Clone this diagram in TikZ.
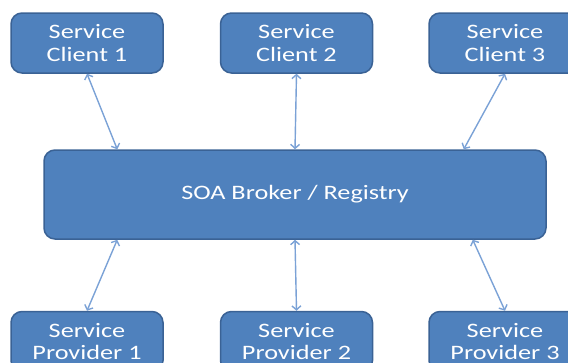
\documentclass[tikz,border=0pt]{standalone}
\usepackage{fontspec}
\newfontfamily\boxfont{Carlito}[FakeStretch=1.28]
\usepackage{tikz}
\usetikzlibrary{arrows.meta, positioning}

\definecolor{boxblue}{HTML}{4F81BD}
\definecolor{boxedge}{HTML}{3A6295}
\definecolor{linkblue}{HTML}{7BA2D6}

\begin{document}
\begin{tikzpicture}[x=1pt, y=-1pt,
        svc/.style={rectangle, draw=boxedge, line width=1.5pt, rounded corners=11pt,
                    fill=boxblue, text=white, align=center,
                    minimum width=152pt, minimum height=60pt, inner sep=0pt,
                    font=\boxfont\fontsize{20.5}{22.5}\selectfont},
        broker/.style={svc, minimum width=502pt, minimum height=89pt},
        link/.style={{Straight Barb[length=4pt,width=9pt]}-{Straight Barb[length=4pt,width=9pt]},
                     line width=1.4pt, linkblue}
    ]
        \useasboundingbox (0,0) rectangle (568,362);
        \clip (0,0) rectangle (568,362);
        \node[svc] (cl1) at (87,43) {Service\\Client 1};
        \node[svc, right=56pt of cl1] (cl2) {Service\\Client 2};
        \node[svc, right=55pt of cl2] (cl3) {Service\\Client 3};
        \node[broker] (brk) at (295,194.5) {SOA Broker / Registry};
        \node[svc, below=237pt of cl1] (pr1) {Service\\Provider 1};
        \node[svc, below=237pt of cl2] (pr2) {Service\\Provider 2};
        \node[svc, below=237pt of cl3] (pr3) {Service\\Provider 3};
        \coordinate (bt1) at ([xshift=74pt]brk.north west);
        \coordinate (bt3) at ([xshift=-83pt]brk.north east);
        \coordinate (bb1) at ([xshift=74pt]brk.south west);
        \coordinate (bb3) at ([xshift=-74pt]brk.south east);
        \draw[link] (cl1.south) -- (bt1); \draw[link] (cl2.south) -- (brk.north);
        \draw[link] (cl3.south) -- (bt3);
        \draw[link] (bb1) -- (pr1.north); \draw[link] (brk.south) -- (pr2.north);
        \draw[link] (bb3) -- (pr3.north);
    \end{tikzpicture}
\end{document}
